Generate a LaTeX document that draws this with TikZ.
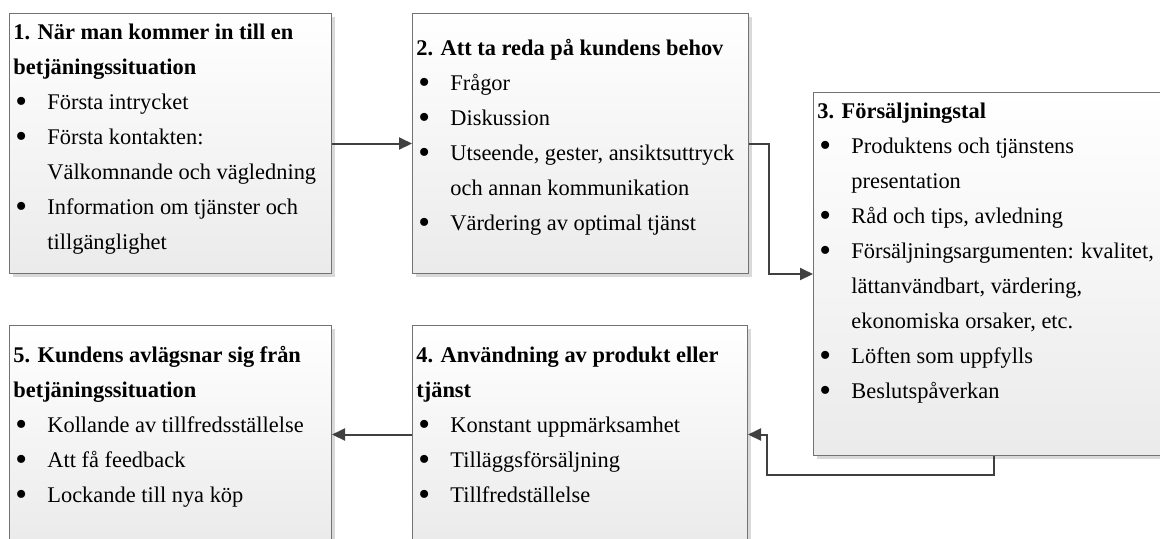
\documentclass[tikz,border=0pt]{standalone}
\usepackage{fontspec}
\usepackage{graphicx}
\setmainfont{Liberation Serif}
\usetikzlibrary{
  arrows.meta,
  positioning,
  shadows
}

% punkt och indrag i listorna
\newcommand{\pkt}{\makebox[17pt][l]{\hspace{1pt}\raisebox{-1.3pt}{\scalebox{1.5}{\textbullet}}}}
\newcommand{\fort}{\hspace*{17pt}}

\begin{document}
\begin{tikzpicture}[
      x=0.5pt, y=-0.5pt,
      kasse/.style={draw=black!55, line width=0.5pt,
        top color=white, bottom color=black!8,
        drop shadow={shadow xshift=1.5pt, shadow yshift=-1.5pt, fill=black, opacity=0.15},
        anchor=north west, inner sep=0pt},
      rad/.style={anchor=north west, inner sep=0pt, align=left,
        font=\fontsize{11.2pt}{17.5pt}\selectfont},
      pil/.style={-{Triangle[length=6.5pt,width=6pt]}, line width=1pt, draw=black!75}
  ]
      \useasboundingbox (0,0) rectangle (1160,538);
      \clip (0,0) rectangle (1160,538);

      % Lådorna
      \node[kasse, minimum width=161pt, minimum height=130pt] (k1) at (9,13) {};
      \node[kasse, minimum width=168pt, minimum height=130pt] (k2) at (412,13) {};
      \node[kasse, minimum width=180pt, minimum height=181.5pt] (k3) at (813,92) {};
      \node[kasse, minimum width=167.5pt, minimum height=109pt] (k4) at (412,325) {};
      \node[kasse, minimum width=161pt, minimum height=109pt] (k5) at (9,325) {};

      % Texterna
      \node[rad, below right=1pt and 2pt of k1.north west] (t1) {\strut\textbf{1. När man kommer in till en}\\
        \textbf{betjäningssituation}\\
        \pkt Första intrycket\\
        \pkt Första kontakten:\\
        \fort Välkomnande och vägledning\\
        \pkt Information om tjänster och\\
        \fort tillgänglighet};
      \node[rad, below right=9pt and 2pt of k2.north west] (t2) {\strut\textbf{2. Att ta reda på kundens behov}\\
        \pkt Frågor\\
        \pkt Diskussion\\
        \pkt Utseende, gester, ansiktsuttryck\\
        \fort och annan kommunikation\\
        \pkt Värdering av optimal tjänst};
      \node[rad, below right=1pt and 2pt of k3.north west] (t3) {\strut\textbf{3. Försäljningstal}\\
        \pkt Produktens och tjänstens\\
        \fort presentation\\
        \pkt Råd och tips, avledning\\
        \pkt Försäljningsargumenten: kvalitet,\\
        \fort lättanvändbart, värdering,\\
        \fort ekonomiska orsaker, etc.\\
        \pkt Löften som uppfylls\\
        \pkt Beslutspåverkan};
      \node[rad, below right=6.5pt and 2pt of k4.north west] (t4) {\strut\textbf{4. Användning av produkt eller}\\
        \textbf{tjänst}\\
        \pkt Konstant uppmärksamhet\\
        \pkt Tilläggsförsäljning\\
        \pkt Tillfredställelse};
      \node[rad, below right=6.5pt and 2pt of k5.north west] (t5) {\strut\textbf{5. Kundens avlägsnar sig från}\\
        \textbf{betjäningssituation}\\
        \pkt Kollande av tillfredsställelse\\
        \pkt Att få feedback\\
        \pkt Lockande till nya köp};

      % Pilarna
      \draw[pil] (k1.east) -- (k2.west);
      \draw[pil] (k2.east) -- ++(20,0) |- (k3.west);
      \draw[pil] (k3.south) -- ++(0,19) -| ([xshift=9.5pt]k4.east) -- (k4.east);
      \draw[pil] (k4.west) -- (k5.east);

  \end{tikzpicture}
\end{document}
